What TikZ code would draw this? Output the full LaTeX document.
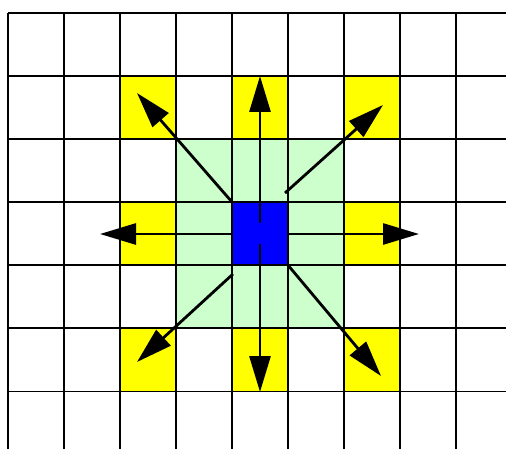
\documentclass[tikz,border=0pt]{standalone}
\usetikzlibrary{arrows.meta}
\definecolor{cellyellow}{HTML}{FFFF00}
\definecolor{cellgreen}{HTML}{CCFFCC}
\definecolor{cellblue}{HTML}{0000FF}
\begin{document}
\begin{tikzpicture}[x=1pt,y=-1pt,
  cell/.style={rectangle,inner sep=0pt,outer sep=0pt,minimum width=56pt,minimum height=63.13pt},
  gridline/.style={line width=1.8pt,black},
  mover/.style={line width=2.8pt,black,-{Triangle[length=36pt,width=21pt]}}]
\useasboundingbox (0,0) rectangle (506,449);
% light green neighbourhood
\node[cell,fill=cellgreen,minimum width=168pt,minimum height=189.4pt] (zone) at (260,233.6) {};
% yellow target cells
\node[cell,fill=cellyellow] (ul) at (148,107.3) {};
\node[cell,fill=cellyellow] (u)  at (260,107.3) {};
\node[cell,fill=cellyellow] (ur) at (372,107.3) {};
\node[cell,fill=cellyellow] (l)  at (148,233.6) {};
\node[cell,fill=cellyellow] (r)  at (372,233.6) {};
\node[cell,fill=cellyellow] (dl) at (148,360.0) {};
\node[cell,fill=cellyellow] (d)  at (260,360.0) {};
\node[cell,fill=cellyellow] (dr) at (372,360.0) {};
% blue centre cell
\node[cell,fill=cellblue] (c) at (260,233.6) {};
% grid
\foreach \k in {0,...,8} \draw[gridline] (8+56*\k,12.7) -- (8+56*\k,449);
\foreach \r in {0,...,6} \draw[gridline] (8,12.7+63.13*\r) -- (506,12.7+63.13*\r);
% arrow endpoints
\coordinate (sU) at (260,223);  \coordinate (tU) at (260,76);
\coordinate (sD) at (260,244);  \coordinate (tD) at (260,392);
\coordinate (tL) at (100,234);  \coordinate (tR) at (419,234);
\coordinate (sUR) at (285,193); \coordinate (tUR) at (383,105);
\coordinate (tUL) at (137,93);
\coordinate (sDL) at (233,274); \coordinate (tDL) at (137,362);
\coordinate (tDR) at (381,376);
% arrows
\draw[mover] (sU) -- (tU);
\draw[mover] (sD) -- (tD);
\draw[mover] (c.west |- tL) -- (tL);
\draw[mover] (c.east |- tR) -- (tR);
\draw[mover] (c.north west) -- (tUL);
\draw[mover] (sUR) -- (tUR);
\draw[mover] (sDL) -- (tDL);
\draw[mover] (c.south east) -- (tDR);
\end{tikzpicture}
\end{document}
